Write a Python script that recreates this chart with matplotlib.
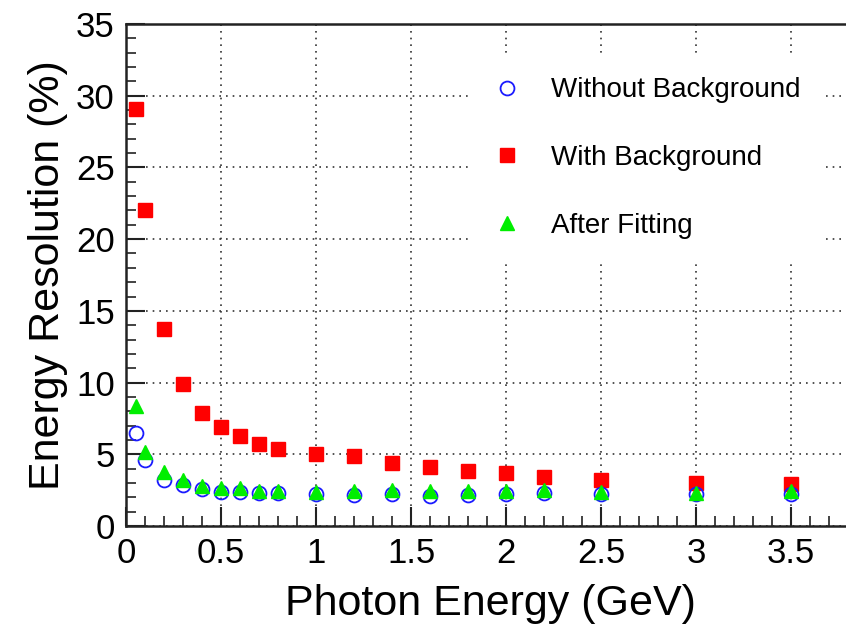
import matplotlib
matplotlib.use("Agg")
import matplotlib.pyplot as plt
from matplotlib.ticker import MultipleLocator

plt.rcParams["font.family"] = ["Liberation Sans", "DejaVu Sans"]

# photon energy (GeV)
energy = [0.05, 0.1, 0.2, 0.3, 0.4, 0.5, 0.6, 0.7, 0.8, 1.0,
          1.2, 1.4, 1.6, 1.8, 2.0, 2.2, 2.5, 3.0, 3.5]

# energy resolution (%)
res_without_bkg = [6.5, 4.58, 3.24, 2.85, 2.6, 2.38, 2.34, 2.27, 2.27, 2.25,
                   2.15, 2.2, 2.08, 2.15, 2.22, 2.27, 2.22, 2.2, 2.22]
res_with_bkg = [29.1, 22.0, 13.75, 9.9, 7.9, 6.9, 6.25, 5.75, 5.4, 5.05,
                4.85, 4.4, 4.12, 3.82, 3.72, 3.42, 3.19, 3.03, 2.96]
res_after_fit = [8.35, 5.16, 3.77, 3.19, 2.78, 2.62, 2.62, 2.45, 2.45, 2.38,
                 2.43, 2.5, 2.45, 2.43, 2.45, 2.5, 2.34, 2.31, 2.45]

labels = ["Without Background", "With Background", "After Fitting"]

W, H = 846, 631
fig = plt.figure(figsize=(W / 100, H / 100), dpi=100)
ax = fig.add_axes([126 / W, (H - 526) / H, 722 / W, 502 / H])

h_red, = ax.plot(energy, res_with_bkg, ls="none", marker="s", ms=9.4,
                 color="#ff0000", mec="#ff0000", zorder=3)
h_blue, = ax.plot(energy, res_without_bkg, ls="none", marker="o", ms=10,
                  mfc="none", mec="#1a1aff", mew=1.3, zorder=4)
h_green, = ax.plot(energy, res_after_fit, ls="none", marker="^", ms=10,
                   color="#00ee00", mec="#00ee00", zorder=5)

ax.set_xlim(0, 3.8)
ax.set_ylim(0, 35)
ax.xaxis.set_major_locator(MultipleLocator(0.5))
ax.xaxis.set_minor_locator(MultipleLocator(0.1))
ax.yaxis.set_major_locator(MultipleLocator(5))
ax.yaxis.set_minor_locator(MultipleLocator(1))
ax.xaxis.set_major_formatter(plt.FuncFormatter(lambda v, p: f"{v:g}"))

ax.tick_params(which="both", direction="in", top=False, right=False,
               labelsize=25, colors="#222222", labelcolor="black")
ax.tick_params(which="major", length=14, width=1.5, pad=8)
ax.tick_params(which="minor", length=7, width=1.2)

for s in ("left", "bottom", "top"):
    ax.spines[s].set_linewidth(1.8)
    ax.spines[s].set_color("#222222")
ax.spines["right"].set_visible(False)

ax.grid(True, which="major", ls=(0, (1, 3)), lw=1.2, color="#333333")
ax.set_axisbelow(True)

ax.set_xlabel("Photon Energy (GeV)", fontsize=31)
ax.set_ylabel("Energy Resolution (%)", fontsize=31)
ax.xaxis.set_label_coords(0.505, -0.115)
ax.yaxis.set_label_coords(-58 / 722, 0.5)

# legend: white box without border, hides the grid behind it
leg = ax.legend([h_blue, h_red, h_green], labels, loc="center left",
                bbox_to_anchor=(469 / W, (H - 158) / H),
                bbox_transform=fig.transFigure, frameon=True, fontsize=20,
                labelspacing=1.5, handlelength=1.0, handletextpad=1.1,
                borderpad=0.85, borderaxespad=0, numpoints=1,
                fancybox=False, framealpha=1.0)
leg.get_frame().set_facecolor("white")
leg.get_frame().set_edgecolor("none")
leg.set_zorder(10)

fig.savefig("out.png", dpi=100)
